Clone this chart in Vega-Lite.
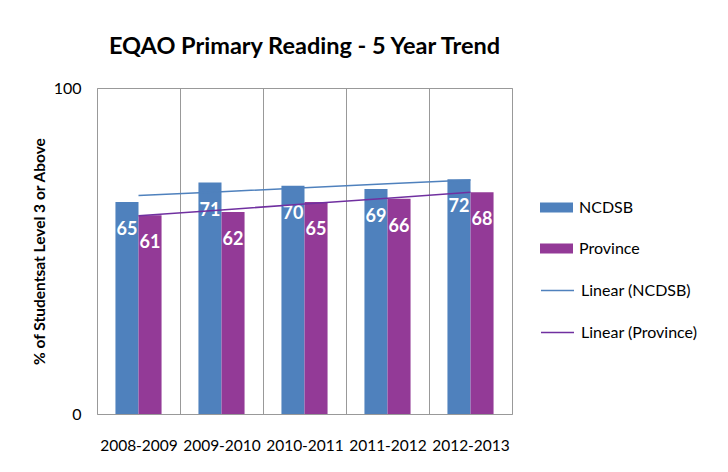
{
  "$schema": "https://vega.github.io/schema/vega-lite/v6.json",
  "width": 415,
  "height": 326,
  "autosize": {"type": "none"},
  "padding": {"left": 97, "top": 88, "right": 216, "bottom": 58},
  "background": "white",
  "title": {
    "text": "EQAO Primary Reading - 5 Year Trend",
    "font": "Lato",
    "fontSize": 23.5,
    "fontWeight": "bold",
    "color": "black",
    "anchor": "middle",
    "offset": 22
  },
  "config": {
    "view": {"stroke": "#999999", "strokeWidth": 1},
    "font": "Lato"
  },
  "data": {
    "values": [
      {"year": "2008-2009", "series": "NCDSB", "value": 65, "trendName": "Linear (NCDSB)", "trend": 67.0},
      {"year": "2009-2010", "series": "NCDSB", "value": 71, "trendName": "Linear (NCDSB)", "trend": 68.2},
      {"year": "2010-2011", "series": "NCDSB", "value": 70, "trendName": "Linear (NCDSB)", "trend": 69.4},
      {"year": "2011-2012", "series": "NCDSB", "value": 69, "trendName": "Linear (NCDSB)", "trend": 70.6},
      {"year": "2012-2013", "series": "NCDSB", "value": 72, "trendName": "Linear (NCDSB)", "trend": 71.8},
      {"year": "2008-2009", "series": "Province", "value": 61, "trendName": "Linear (Province)", "trend": 60.8},
      {"year": "2009-2010", "series": "Province", "value": 62, "trendName": "Linear (Province)", "trend": 62.6},
      {"year": "2010-2011", "series": "Province", "value": 65, "trendName": "Linear (Province)", "trend": 64.4},
      {"year": "2011-2012", "series": "Province", "value": 66, "trendName": "Linear (Province)", "trend": 66.2},
      {"year": "2012-2013", "series": "Province", "value": 68, "trendName": "Linear (Province)", "trend": 68.0}
    ]
  },
  "encoding": {
    "x": {
      "field": "year",
      "type": "nominal",
      "scale": {"paddingInner": 0, "paddingOuter": 0},
      "axis": {
        "title": null,
        "labelAngle": 0,
        "labelFontSize": 15.5,
        "labelColor": "black",
        "labelPadding": 24,
        "ticks": false,
        "domain": false,
        "grid": true,
        "gridColor": "#999999",
        "gridOpacity": 1,
        "tickBand": "extent"
      }
    }
  },
  "layer": [
    {
      "mark": {"type": "bar"},
      "encoding": {
        "xOffset": {"field": "series", "type": "nominal", "scale": {"paddingInner": 0, "paddingOuter": 0.8}},
        "y": {
          "field": "value",
          "type": "quantitative",
          "scale": {"domain": [0, 100], "nice": false},
          "axis": {
            "title": "% of Studentsat Level 3 or Above",
            "titleFontSize": 15.5,
            "titleFontWeight": "bold",
            "titleColor": "black",
            "titlePadding": 6,
            "values": [0, 100],
            "labelFontSize": 16,
            "labelColor": "black",
            "labelPadding": 16,
            "ticks": false,
            "domain": false,
            "grid": false
          }
        },
        "color": {
          "field": "series",
          "type": "nominal",
          "scale": {"domain": ["NCDSB", "Province"], "range": ["#4F81BD", "#933A97"]},
          "legend": {
            "title": null,
            "orient": "none",
            "legendX": 443,
            "legendY": 103,
            "symbolType": "M-1,-0.3H1V0.3H-1Z",
            "symbolSize": 1089,
            "symbolStrokeWidth": 0,
            "labelFontSize": 16,
            "labelColor": "black",
            "labelOffset": 6,
            "rowPadding": 16
          }
        }
      }
    },
    {
      "mark": {"type": "text", "color": "white", "fontWeight": "bold", "fontSize": 18, "baseline": "middle", "dy": 28},
      "encoding": {
        "xOffset": {"field": "series", "type": "nominal", "scale": {"paddingInner": 0, "paddingOuter": 0.8}},
        "y": {"field": "value", "type": "quantitative"},
        "text": {"field": "value", "type": "quantitative"}
      }
    },
    {
      "mark": {"type": "line", "strokeWidth": 1.5},
      "encoding": {
        "y": {"field": "trend", "type": "quantitative"},
        "stroke": {
          "field": "trendName",
          "type": "nominal",
          "scale": {"domain": ["Linear (NCDSB)", "Linear (Province)"], "range": ["#4F81BD", "#7030A0"]},
          "legend": {
            "title": null,
            "orient": "none",
            "legendX": 443,
            "legendY": 185,
            "symbolType": "stroke",
            "symbolSize": 1089,
            "symbolStrokeWidth": 1.5,
            "labelFontSize": 16,
            "labelColor": "black",
            "labelOffset": 6,
            "rowPadding": 16
          }
        }
      }
    }
  ]
}
